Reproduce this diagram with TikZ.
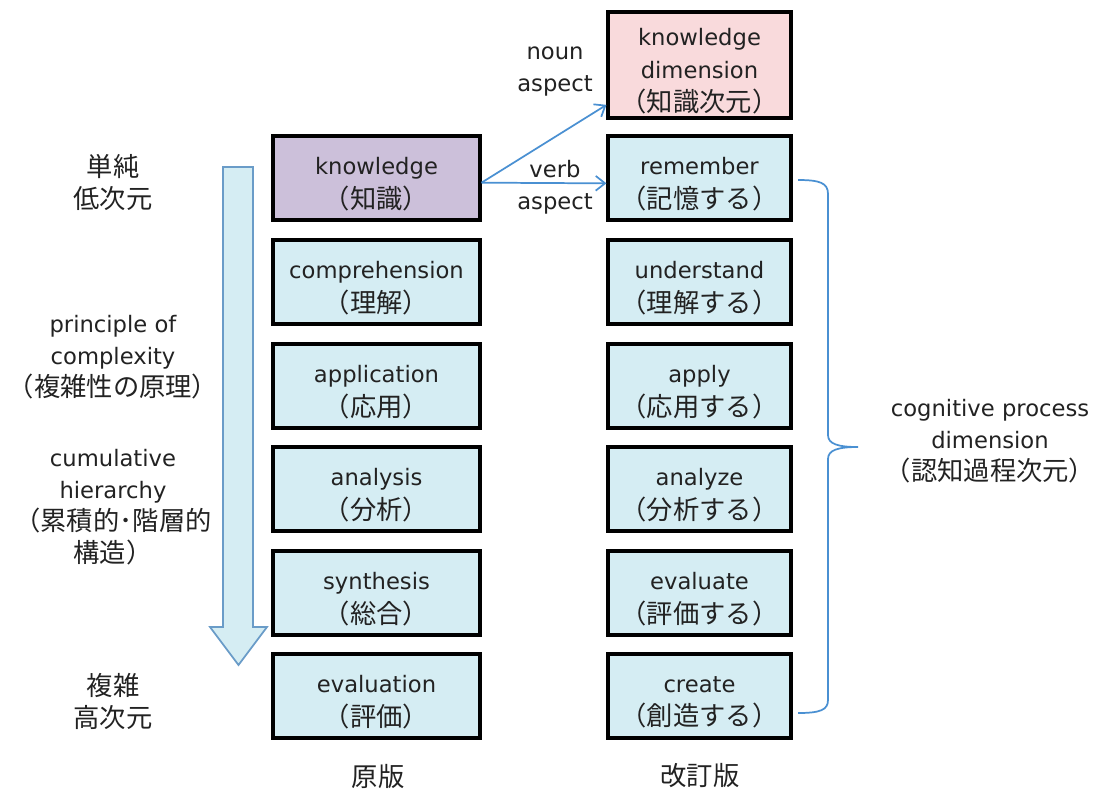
\documentclass[tikz,border=0pt]{standalone}
\usepackage{fontspec}
\setmainfont{DejaVu Sans}
\newfontfamily\jpfont[Scale=1.16]{Noto Sans CJK JP}
\newcommand\jtext[1]{{\jpfont #1}}
\usetikzlibrary{arrows.meta}
\definecolor{purp}{HTML}{CCC0DA}
\definecolor{pinkf}{HTML}{F9DADC}
\definecolor{lblue}{HTML}{D5EDF3}
\definecolor{linkblue}{HTML}{4A90D2}
\definecolor{bigstroke}{HTML}{6A9CC8}
\definecolor{txt}{HTML}{222222}
\tikzset{
  txtfont/.style={font=\fontsize{17}{24}\selectfont, text=txt, align=center, inner sep=0pt},
  boxtxt/.style={font=\fontsize{17}{25}\selectfont, text=txt, align=center, inner sep=0pt, yshift=-4.5pt},
  boxbase/.style={draw=black, line width=2.3pt, minimum height=63pt, inner sep=0pt,
    label={[boxtxt]center:{#1}}},
  lbox/.style={boxbase={#1}, minimum width=155.25pt, fill=lblue},
  rbox/.style={boxbase={#1}, minimum width=137.25pt, fill=lblue},
  link/.style={draw=linkblue, line width=1.3pt, -{Straight Barb[length=7pt,width=11pt,line width=1.3pt]}},
  bracestyle/.style={draw=linkblue, line width=1.3pt},
  bigarrow/.style={draw=bigstroke, fill=lblue, line width=1.3pt, line join=miter}
}
\begin{document}
\begin{tikzpicture}[x=0.75pt,y=-0.75pt]
\useasboundingbox (0,0) rectangle (1100,794);

% left column (original)
\node[lbox={knowledge\\\jtext{（知識）}}, fill=purp] (know) at (376.5,178) {};
\node[lbox={comprehension\\\jtext{（理解）}}] (comp) at (376.5,282) {};
\node[lbox={application\\\jtext{（応用）}}] (appl) at (376.5,386) {};
\node[lbox={analysis\\\jtext{（分析）}}] (anal) at (376.5,489) {};
\node[lbox={synthesis\\\jtext{（総合）}}] (synt) at (376.5,593) {};
\node[lbox={evaluation\\\jtext{（評価）}}] (eval) at (376.5,696) {};

% right column (revised)
\node[rbox={knowledge\\dimension\\\jtext{（知識次元）}}, fill=pinkf, minimum height=79.5pt] (kdim) at (699.5,65) {};
\node[rbox={remember\\\jtext{（記憶する）}}] (rem) at (699.5,178) {};
\node[rbox={understand\\\jtext{（理解する）}}] (und) at (699.5,282) {};
\node[rbox={apply\\\jtext{（応用する）}}] (app) at (699.5,386) {};
\node[rbox={analyze\\\jtext{（分析する）}}] (ana) at (699.5,489) {};
\node[rbox={evaluate\\\jtext{（評価する）}}] (eva) at (699.5,593) {};
\node[rbox={create\\\jtext{（創造する）}}] (cre) at (699.5,696) {};

% connectors
\coordinate (src) at ([yshift=-3.5pt]know.east);
\draw[link] (src) -- ([yshift=11pt]kdim.south west);
\draw[link] (src) -- ([yshift=-4pt]rem.west);
\node[txtfont] (noun) at (555,72) {noun\\aspect};
\node[txtfont] (verb) at (555,187) {verb\\aspect};

% big downward arrow
\draw[bigarrow] (223,167) -- (253,167) -- (253,627) -- (267,627) -- (238.5,665) -- (210,627) -- (223,627) -- cycle;

% left labels
\node[txtfont] (simple) at (113,182) {\jtext{単純}\\\jtext{低次元}};
\node[txtfont] (princ) at (113,357) {principle of\\complexity\\\jtext{（複雑性の原理）}};
\node[txtfont] (cumul) at (113,507) {cumulative\\hierarchy\\\jtext{（累積的･階層的}\\\jtext{構造）}};
\node[txtfont] (complex) at (113,701) {\jtext{複雑}\\\jtext{高次元}};

% brace
\draw[bracestyle] (798,180) .. controls (820,180) and (828,183) .. (828,194)
  -- (828,435) .. controls (828,444) and (838,447) .. (858,447)
  .. controls (838,447) and (828,450) .. (828,459)
  -- (828,700) .. controls (828,710) and (820,713) .. (798,713);
\node[txtfont] (cpd) at (990,441) {cognitive process\\dimension\\\jtext{（認知過程次元）}};

% bottom labels
\node[txtfont] (orig) at (378,776) {\jtext{原版}};
\node[txtfont] (revd) at (700,776) {\jtext{改訂版}};
\end{tikzpicture}
\end{document}
